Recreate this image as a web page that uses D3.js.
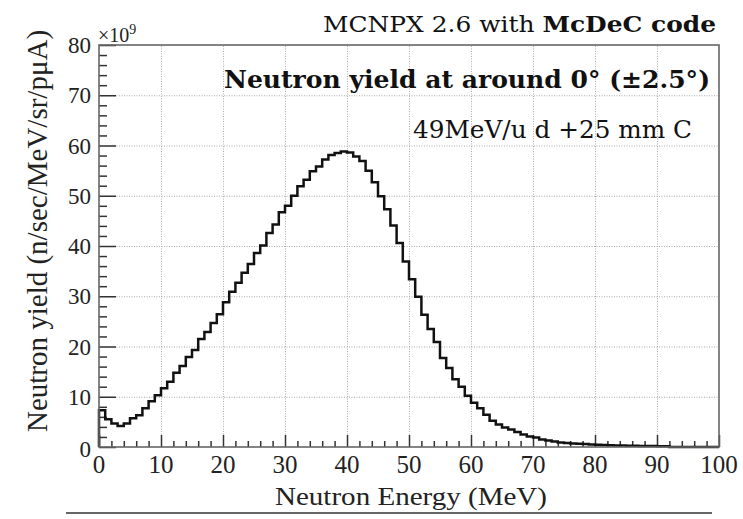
<!DOCTYPE html>
<html><head><meta charset="utf-8">
<script src="https://cdn.jsdelivr.net/npm/d3@7"></script>
<style>
html,body{margin:0;padding:0;background:#fff;}
svg{display:block;}
</style></head>
<body>
<svg id="c" width="743" height="519"></svg>
<script>
// Bin lower edges are 0..99 MeV (1 MeV bins); values in units of 10^9
const binEdges = d3.range(0, 101, 1);
const yieldValues = [
 7.3,5.5,4.7,4.2,4.7,5.7,6.3,7.7,9.1,10.3,
 11.7,13.0,14.8,16.1,17.9,19.3,21.5,22.9,24.7,26.4,
 28.8,30.9,32.7,34.7,36.4,38.6,40.1,42.6,44.3,46.7,
 48.0,50.0,51.9,53.2,54.9,55.8,57.2,58.1,58.5,58.8,
 58.6,57.8,56.9,55.0,52.7,49.9,47.3,44.1,40.6,36.9,
 33.4,29.9,26.3,23.5,20.9,17.7,15.7,13.5,12.0,10.2,
 8.8,7.7,6.4,5.2,4.5,3.9,3.5,3.0,2.5,2.1,
 1.9,1.5,1.3,1.1,0.9,0.8,0.7,0.65,0.6,0.5,
 0.45,0.4,0.35,0.3,0.3,0.25,0.25,0.2,0.2,0.2,
 0.15,0.15,0,0,0,0,0,0,0,0
];
const xTicks = [0,10,20,30,40,50,60,70,80,90,100];
const yTicks = [0,10,20,30,40,50,60,70,80];
const xMinor = d3.range(0, 101, 2).filter(d => d % 10 !== 0);
const yMinor = d3.range(0, 81, 2).filter(d => d % 10 !== 0);
const titleTop = "MCNPX 2.6 with ";
const titleTopBold = "McDeC code";
const titleMain = "Neutron yield at around 0\u00B0 (\u00B12.5\u00B0)";
const titleSub = "49MeV/u d +25 mm C";
const xLabel = "Neutron Energy (MeV)";
const yLabel = "Neutron yield (n/sec/MeV/sr/p\u03BCA)";

const svg = d3.select("#c");
const L = 99, R = 719, T = 45, B = 447;
const x = d3.scaleLinear().domain([0,100]).range([L,R]);
const y = d3.scaleLinear().domain([0,80]).range([B,T]);
const serif = "'Liberation Serif','Times New Roman',serif";
const annFont = "'DejaVu Serif','Liberation Serif',serif";

// grid (d3 axes with full-length ticks)
const gx = svg.append("g").attr("transform", `translate(0,${B})`)
  .call(d3.axisBottom(x).tickValues(xTicks.slice(1,-1)).tickSize(-(B-T)).tickFormat(""));
const gy = svg.append("g").attr("transform", `translate(${L},0)`)
  .call(d3.axisLeft(y).tickValues(yTicks.slice(1,-1)).tickSize(-(R-L)).tickFormat(""));
[gx, gy].forEach(g => {
  g.select(".domain").remove();
  g.selectAll(".tick line").attr("stroke", "#aaa").attr("stroke-width", 1)
    .attr("stroke-dasharray", "1,1.5");
});

// inward ticks via d3 axes
function tickAxis(axis, tr) {
  const g = svg.append("g").attr("transform", tr).call(axis);
  g.select(".domain").remove();
  g.selectAll(".tick line").attr("stroke", "#333").attr("stroke-width", 1.5);
  g.selectAll(".tick text").remove();
  return g;
}
tickAxis(d3.axisBottom(x).tickValues(xTicks).tickSize(-12).tickFormat(""), `translate(0,${B})`);
tickAxis(d3.axisBottom(x).tickValues(xMinor).tickSize(-6).tickFormat(""), `translate(0,${B})`);
tickAxis(d3.axisLeft(y).tickValues(yTicks).tickSize(-17).tickFormat(""), `translate(${L},0)`);
tickAxis(d3.axisLeft(y).tickValues(yMinor).tickSize(-8).tickFormat(""), `translate(${L},0)`);

// histogram
const pts = [[x(0), y(0)]];
yieldValues.forEach((v,i) => {
  pts.push([x(binEdges[i]), y(v)]);
  pts.push([x(binEdges[i+1]), y(v)]);
});
pts.push([x(100), y(0)]);
svg.append("path").attr("d", d3.line()(pts))
  .attr("fill", "none").attr("stroke", "#111").attr("stroke-width", 2.5)
  .attr("stroke-linejoin", "miter");

// frame
svg.append("rect").attr("x", L).attr("y", T).attr("width", R-L).attr("height", B-T)
  .attr("fill", "none").attr("stroke", "#666").attr("stroke-width", 1.6);

// tick labels
svg.selectAll("text.xt").data(xTicks).join("text").attr("class","xt")
  .attr("x", d=>x(d)).attr("y", 473).attr("text-anchor", "middle")
  .attr("font-family", serif).attr("font-size", 25).attr("fill", "#222")
  .text(d=>d);
svg.selectAll("text.yt").data(yTicks).join("text").attr("class","yt")
  .attr("x", 91).attr("y", d=> d===0 ? y(d)+10 : y(d)+8).attr("text-anchor", "end")
  .attr("font-family", serif).attr("font-size", 23).attr("fill", "#222")
  .text(d=>d);
const ex = svg.append("text").attr("x", 98).attr("y", 42)
  .attr("font-family", serif).attr("font-size", 20).attr("fill", "#222");
ex.append("tspan").text("\u00D710");
ex.append("tspan").attr("dy", -8).attr("font-size", 14).text("9");

// axis labels
svg.append("text").attr("x", 411).attr("y", 505).attr("text-anchor", "middle")
  .attr("font-family", serif).attr("font-size", 26).attr("fill", "#222")
  .attr("textLength", 272).attr("lengthAdjust", "spacingAndGlyphs").text(xLabel);
svg.append("text").attr("transform", "translate(47,231) rotate(-90)")
  .attr("text-anchor", "middle")
  .attr("font-family", serif).attr("font-size", 29).attr("fill", "#222").text(yLabel);

// annotations
const t1 = svg.append("text").attr("x", 716).attr("y", 32).attr("text-anchor", "end")
  .attr("font-family", annFont).attr("font-size", 22).attr("fill", "#111")
  .attr("textLength", 393).attr("lengthAdjust", "spacingAndGlyphs");
t1.append("tspan").text(titleTop);
t1.append("tspan").attr("font-weight", "bold").text(titleTopBold);
svg.append("text").attr("x", 710).attr("y", 88).attr("text-anchor", "end")
  .attr("font-family", annFont).attr("font-weight", "bold").attr("font-size", 25)
  .attr("fill", "#111").attr("textLength", 486).attr("lengthAdjust", "spacingAndGlyphs")
  .text(titleMain);
svg.append("text").attr("x", 692).attr("y", 138).attr("text-anchor", "end")
  .attr("font-family", annFont).attr("font-size", 24).attr("fill", "#111")
  .attr("textLength", 279).attr("lengthAdjust", "spacingAndGlyphs").text(titleSub);

// bottom rule
svg.append("line").attr("x1", 66).attr("x2", 712).attr("y1", 513).attr("y2", 513)
  .attr("stroke", "#333").attr("stroke-width", 1.5);
</script>
</body></html>
